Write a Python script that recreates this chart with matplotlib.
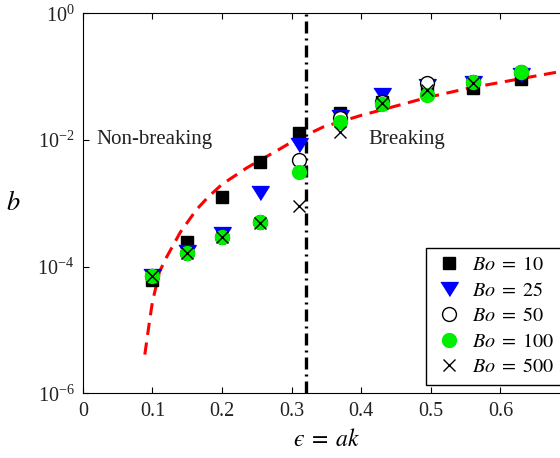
import matplotlib
matplotlib.use("Agg")
import matplotlib.pyplot as plt

plt.rcParams["font.family"] = ["Liberation Serif", "DejaVu Serif"]
plt.rcParams["mathtext.fontset"] = "stix"

# wave steepness for each run
eps = [0.10, 0.15, 0.20, 0.255, 0.31, 0.37, 0.43, 0.495, 0.56, 0.63]

# b values per Bond number
b_bo10 = [6.2e-5, 2.45e-4, 1.26e-3, 4.5e-3, 1.3e-2, 2.7e-2, 4.0e-2, 5.7e-2, 6.6e-2, 9.3e-2]
b_bo25 = [7.1e-5, 1.7e-4, 3.3e-4, 1.45e-3, 8.3e-3, 2.3e-2, 5.1e-2, 7.1e-2, 8.0e-2, 1.07e-1]
b_bo50 = [7.1e-5, 1.65e-4, 2.95e-4, 5.1e-4, 4.9e-3, 2.2e-2, 4.0e-2, 7.8e-2, 8.3e-2, 1.2e-1]
b_bo100 = [7.1e-5, 1.65e-4, 2.95e-4, 5.1e-4, 3.1e-3, 1.9e-2, 3.7e-2, 5.1e-2, 8.3e-2, 1.2e-1]
eps_bo500 = eps[:9]
b_bo500 = [7.1e-5, 1.65e-4, 2.95e-4, 4.9e-4, 9.1e-4, 1.35e-2, 3.9e-2, 6.2e-2, 8.0e-2]

# red dashed fit curve
curve_eps = [0.089, 0.096, 0.10, 0.11, 0.12, 0.14, 0.163, 0.18, 0.20, 0.235, 0.25,
             0.28, 0.30, 0.345, 0.40, 0.43, 0.495, 0.555, 0.62, 0.68, 0.70]
curve_b = [4.1e-6, 1.45e-5, 2.8e-5, 8.3e-5, 1.4e-4, 3.5e-4, 7.9e-4, 1.26e-3, 2.0e-3,
           3.6e-3, 4.5e-3, 6.9e-3, 9.3e-3, 1.6e-2, 2.45e-2, 3.0e-2, 4.7e-2, 6.6e-2,
           8.9e-2, 1.17e-1, 1.26e-1]

eps_break = 0.32

fig = plt.figure(figsize=(5.6, 4.58), dpi=100)
ax = fig.add_axes([0.148, 0.141, 0.870, 0.83])

tri = [(-1, 0.8), (1, 0.8), (0, -0.8)]

ax.plot(curve_eps, curve_b, color="red", lw=2.2, linestyle=(0, (4, 2.5)), zorder=2)
ax.axvline(eps_break, color="black", lw=2.4, linestyle=(0, (3.6, 1.5, 0.6, 1.5)), zorder=2)

ax.plot(eps, b_bo10, ls="none", marker="s", ms=8.6, color="black",
        label=r"$Bo\;=\;10$", zorder=3)
ax.plot(eps, b_bo25, ls="none", marker=tri, ms=12.5, color="blue",
        label=r"$Bo\;=\;25$", zorder=3)
ax.plot(eps, b_bo50, ls="none", marker="o", ms=10, mfc="white", mec="black", mew=1,
        label=r"$Bo\;=\;50$", zorder=3)
ax.plot(eps, b_bo100, ls="none", marker="o", ms=10, color="#00ee00", mec="#00ee00",
        label=r"$Bo\;=\;100$", zorder=3)
ax.plot(eps_bo500, b_bo500, ls="none", marker="x", ms=8, color="black", mew=1,
        label=r"$Bo\;=\;500$", zorder=3)

ax.text(0.02, 1e-2, "Non-breaking", fontsize=15, va="center", ha="left", color="#222222")
ax.text(0.41, 1e-2, "Breaking", fontsize=15, va="center", ha="left", color="#222222")

ax.set_yscale("log")
ax.set_xlim(0, 0.7)
ax.set_ylim(1e-6, 1)
ax.set_yticks([1e-6, 1e-4, 1e-2, 1])
ax.minorticks_off()
ax.set_xticks([0, 0.1, 0.2, 0.3, 0.4, 0.5, 0.6])
ax.set_xticklabels(["0", "0.1", "0.2", "0.3", "0.4", "0.5", "0.6"])
ax.tick_params(direction="in", top=True, right=True, length=4, labelsize=14.5,
               labelcolor="#222222", pad=6)

ax.set_xlabel(r"$ϵ\;=\;ak$", fontsize=17, labelpad=6)
ax.set_ylabel(r"$b$", fontsize=19, rotation=0, va="center")
ax.yaxis.set_label_coords(-0.142, 0.5)

leg = ax.legend(loc="lower right", fontsize=14.5, frameon=True, fancybox=False,
                edgecolor="black", framealpha=1, handletextpad=0.4,
                borderaxespad=0.4, labelspacing=0.32, handlelength=1.5)
leg.get_frame().set_linewidth(1)

fig.savefig("out.png", dpi=100)
